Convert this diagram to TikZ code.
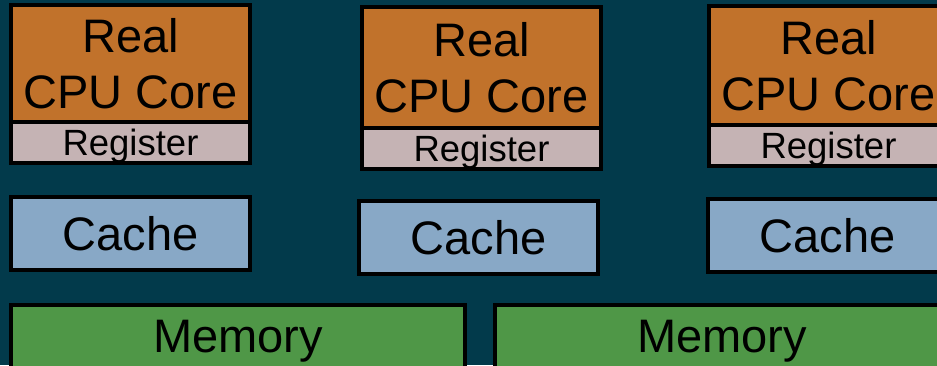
\documentclass[tikz,border=0pt]{standalone}
\usepackage{fontspec}
\setmainfont{Liberation Sans}
\usepackage{xcolor}
\usetikzlibrary{positioning}

\definecolor{bgteal}{HTML}{023A4B}
\definecolor{coreorange}{HTML}{C1722B}
\definecolor{regpink}{HTML}{C5B3B4}
\definecolor{cacheblue}{HTML}{88A8C6}
\definecolor{memgreen}{HTML}{4F9747}

\begin{document}
\begin{tikzpicture}[x=1pt, y=-1pt,
    every node/.style={draw=black, line width=3.5pt, inner sep=0pt, outer sep=0pt, align=center},
    core/.style={fill=coreorange, minimum width=239pt, font=\fontsize{47}{56}\selectfont},
    reg/.style={fill=regpink, minimum width=239pt, minimum height=41pt, text height=26pt, text depth=0pt, font=\fontsize{36.5}{40}\selectfont},
    cache/.style={fill=cacheblue, minimum width=239pt, minimum height=73pt, font=\fontsize{47}{56}\selectfont},
    mem/.style={fill=memgreen, minimum width=454pt, minimum height=72pt, font=\fontsize{47}{56}\selectfont},
]
\useasboundingbox (0,0) rectangle (937,365);
\clip (0,0) rectangle (937,365);
\fill[bgteal] (0,0) rectangle (937,365);

% cores with their registers
\node[core, minimum height=117pt, anchor=north west] (core1) at (11,5) {Real\\CPU Core};
\node[reg, below=0pt of core1] (reg1) {Register};
\node[core, minimum height=121pt, anchor=north west] (core2) at (362,7) {Real\\CPU Core};
\node[reg, below=0pt of core2] (reg2) {Register};
\node[core, minimum height=119pt, anchor=north west] (core3) at (709,6) {Real\\CPU Core};
\node[reg, below=0pt of core3] (reg3) {Register};

% caches
\node[cache, anchor=north west] (cache1) at (11,197) {Cache};
\node[cache, anchor=north west] (cache2) at (359,201) {Cache};
\node[cache, anchor=north west] (cache3) at (708,199) {Cache};

% memories
\node[mem, anchor=north west] (mem1) at (11,305) {Memory};
\node[mem, anchor=north west] (mem2) at (495,305) {Memory};

\end{tikzpicture}
\end{document}
